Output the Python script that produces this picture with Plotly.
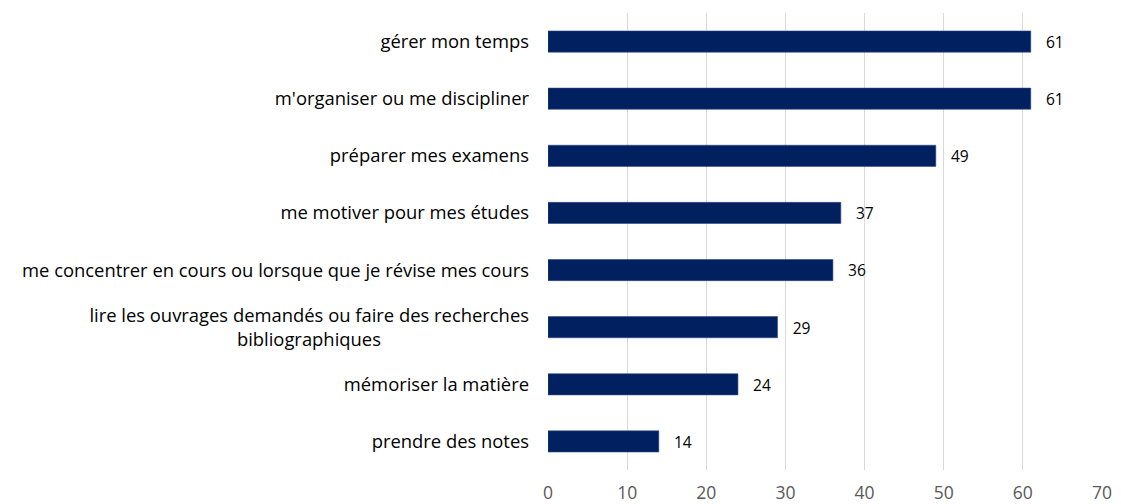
import plotly.graph_objects as go

# DATA
categories = [
    "gérer mon temps",
    "m'organiser ou me discipliner",
    "préparer mes examens",
    "me motiver pour mes études",
    "me concentrer en cours ou lorsque que je révise mes cours",
    "lire les ouvrages demandés ou faire des recherches bibliographiques",
    "mémoriser la matière",
    "prendre des notes",
]
values = [61, 61, 49, 37, 36, 29, 24, 14]
x_ticks = [0, 10, 20, 30, 40, 50, 60, 70]

# long label wraps on two lines, second line centred under the first
pad = "&nbsp;" * 31
tick_text = [
    c if "bibliographiques" not in c
    else "lire les ouvrages demandés ou faire des recherches<br>bibliographiques" + pad
    for c in categories
]

FONT = "Open Sans"
FS = 18.4

fig = go.Figure()
fig.add_trace(go.Bar(
    x=values,
    y=categories,
    orientation="h",
    width=0.37,
    marker=dict(color="#002060", line=dict(color="#2E4A85", width=0.6)),
    text=["\u00a0\u00a0\u00a0" + str(v) for v in values],
    textposition="outside",
    textfont=dict(family=FONT, size=FS, color="#000000"),
    cliponaxis=False,
    hoverinfo="skip",
))

fig.update_layout(
    width=1121,
    height=504,
    margin=dict(l=548, r=19, t=13, b=34, autoexpand=False),
    paper_bgcolor="white",
    plot_bgcolor="white",
    showlegend=False,
    font=dict(family=FONT, size=FS, color="#000000"),
    xaxis=dict(
        range=[0, 70],
        tickvals=x_ticks,
        showgrid=True,
        gridcolor="#D9D9D9",
        gridwidth=1,
        zeroline=False,
        showline=False,
        ticks="",
        automargin=False,
        ticklabelstandoff=10,
        tickfont=dict(family=FONT, size=17.5, color="#595959"),
    ),
    yaxis=dict(
        categoryorder="array",
        categoryarray=categories[::-1],
        tickvals=categories,
        ticktext=tick_text,
        showgrid=False,
        zeroline=False,
        showline=False,
        ticks="",
        automargin=False,
        ticklabelstandoff=18,
        tickfont=dict(family=FONT, size=FS, color="#000000"),
    ),
)

# drop the default page margin so the figure sits at the window's corner
fig.write_html(
    "out.html",
    config={"displayModeBar": False},
    post_script="document.body.style.margin='0px';",
)
